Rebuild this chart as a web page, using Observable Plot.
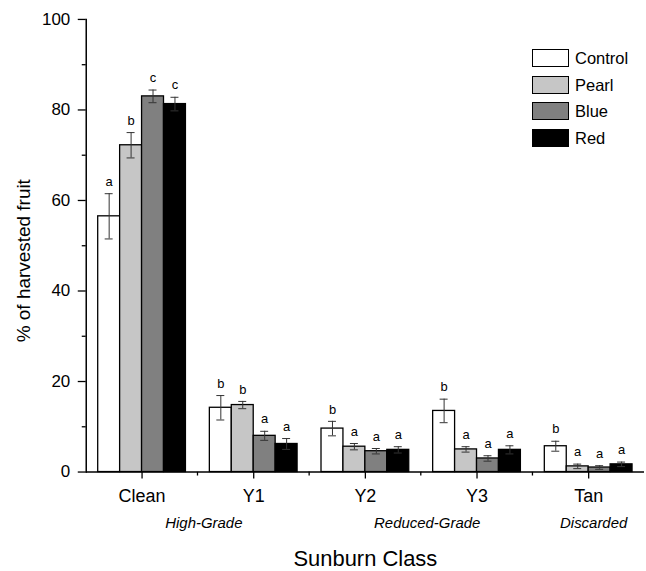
<!DOCTYPE html>
<html>
<head>
<meta charset="utf-8">
<script src="https://cdn.jsdelivr.net/npm/d3@7"></script>
<script src="https://cdn.jsdelivr.net/npm/@observablehq/plot@0.6"></script>
<style>
html, body { margin: 0; padding: 0; background: #fff; overflow: hidden; }
#wrap { position: relative; width: 646px; height: 571px; font-family: "Liberation Sans", Arial, sans-serif; color: #000; }
#legend { position: absolute; left: 532px; top: 49px; }
.item { display: flex; align-items: center; height: 18px; margin-bottom: 8.7px; }
.sw { width: 37px; height: 18px; box-sizing: border-box; border: 1.4px solid #000; }
.lab { margin-left: 6px; font-size: 16.5px; line-height: 18px; }
</style>
</head>
<body>
<div id="wrap"><div id="legend"></div></div>
<script>
const categories = ["Clean", "Y1", "Y2", "Y3", "Tan"];
const treatments = ["Control", "Pearl", "Blue", "Red"];
const fills = ["#ffffff", "#c6c6c6", "#808080", "#000000"];

const meanClean = [56.5, 72.2, 83.0, 81.3];
const seClean = [5.0, 2.8, 1.4, 1.5];
const letterClean = ["a", "b", "c", "c"];
const meanY1 = [14.2, 14.8, 8.0, 6.2];
const seY1 = [2.7, 0.8, 1.0, 1.2];
const letterY1 = ["b", "b", "a", "a"];
const meanY2 = [9.6, 5.6, 4.6, 4.9];
const seY2 = [1.6, 0.7, 0.6, 0.7];
const letterY2 = ["b", "a", "a", "a"];
const meanY3 = [13.5, 5.0, 3.0, 4.9];
const seY3 = [2.6, 0.6, 0.6, 0.9];
const letterY3 = ["b", "a", "a", "a"];
const meanTan = [5.7, 1.25, 1.0, 1.7];
const seTan = [1.1, 0.5, 0.4, 0.5];
const letterTan = ["b", "a", "a", "a"];

const gradeLabels = ["High-Grade", "Reduced-Grade", "Discarded"];
const gradeAnchors = ["Clean", "Y2", "Tan"];
const yTicks = [0, 20, 40, 60, 80, 100];
const yMinorTicks = [10, 30, 50, 70, 90];
const xTitle = "Sunburn Class";
const yTitle = "% of harvested fruit";

const means = [meanClean, meanY1, meanY2, meanY3, meanTan];
const ses = [seClean, seY1, seY2, seY3, seTan];
const letters = [letterClean, letterY1, letterY2, letterY3, letterTan];
const rows = categories.flatMap((c, ci) => treatments.map((t, ti) => ({
  cat: c, trt: t, mean: means[ci][ti], se: ses[ci][ti], letter: letters[ci][ti]
})));
const grades = gradeLabels.map((g, i) => ({label: g, cat: gradeAnchors[i]}));

const W = 648, H = 571, ML = 84, MR = 0, MT = 19, MB = 98;
const fxStep = (W - ML - MR) / categories.length;
const font = '"Liberation Sans", Arial, sans-serif';

const plot = Plot.plot({
  width: W, height: H,
  marginLeft: ML, marginRight: MR, marginTop: MT, marginBottom: MB,
  style: {fontFamily: font, color: "#000", background: "transparent", overflow: "visible"},
  fx: {domain: categories, paddingInner: 0, paddingOuter: 0, label: null},
  x: {domain: treatments, paddingInner: 0, paddingOuter: 0.5, axis: null},
  y: {domain: [0, 100], axis: null},
  color: {domain: treatments, range: fills},
  marks: [
    Plot.barY(rows, {fx: "cat", x: "trt", y: "mean", fill: "trt", stroke: "#000", strokeWidth: 1.3}),
    Plot.ruleX(rows, {fx: "cat", x: "trt", y1: d => d.mean - d.se, y2: d => d.mean + d.se, stroke: "#333", strokeWidth: 1}),
    Plot.tickY(rows, {fx: "cat", x: "trt", y: d => d.mean + d.se, insetLeft: 7, insetRight: 7, stroke: "#333", strokeWidth: 1}),
    Plot.tickY(rows, {fx: "cat", x: "trt", y: d => d.mean - d.se, insetLeft: 7, insetRight: 7, stroke: "#333", strokeWidth: 1}),
    Plot.text(rows, {fx: "cat", x: "trt", y: d => d.mean + d.se, text: "letter", dy: -12, fontSize: 13, fill: "#000"}),
    Plot.ruleY([0], {stroke: "#000", strokeWidth: 1.5}),
    Plot.frame({anchor: "left", facetAnchor: "left", stroke: "#000", strokeWidth: 1.5}),
    Plot.axisY({ticks: yTicks, tickSize: 8, tickPadding: 8, fontSize: 17, label: null, strokeWidth: 1.3}),
    Plot.axisY({ticks: yMinorTicks, tickSize: 4, tickFormat: () => "", label: null, strokeWidth: 1.3}),
    Plot.axisFx({anchor: "bottom", tickSize: 7, tickPadding: 10, fontSize: 18, label: null, strokeWidth: 1.3}),
    Plot.axisFx({anchor: "bottom", ticks: categories.slice(1), tickSize: 4, tickFormat: () => "", label: null, dx: -fxStep / 2, strokeWidth: 1.3}),
    Plot.axisFx({anchor: "bottom", ticks: [], tickSize: 0, label: xTitle, labelAnchor: "center", labelOffset: 94, labelArrow: "none", fontSize: 22}),
    Plot.text(grades.filter(d => d.cat !== "Tan"), {fx: "cat", text: "label", frameAnchor: "bottom-right", textAnchor: "middle", dy: 56, dx: 6, fontSize: 15, fontStyle: "italic"}),
    Plot.text(grades.filter(d => d.cat === "Tan"), {fx: "cat", text: "label", frameAnchor: "bottom", textAnchor: "middle", dy: 56, dx: 5, fontSize: 15, fontStyle: "italic"}),
    Plot.text([yTitle], {text: d => d, frameAnchor: "left", textAnchor: "middle", rotate: -90, dx: -62, dy: 15, fontSize: 19, facetAnchor: "left"})
  ]
});
const wrap = document.getElementById("wrap");
wrap.insertBefore(plot, wrap.firstChild);

const color = plot.scale("color");
const legend = d3.select("#legend");
color.domain.forEach((t, i) => {
  const item = legend.append("div").attr("class", "item");
  item.append("div").attr("class", "sw").style("background", color.range[i]);
  item.append("div").attr("class", "lab").text(t);
});
</script>
</body>
</html>
